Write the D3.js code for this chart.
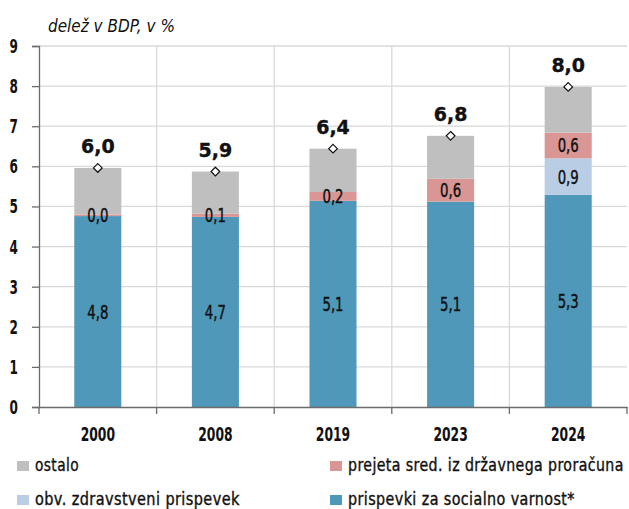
<!DOCTYPE html>
<html><head><meta charset="utf-8">
<script src="https://cdn.jsdelivr.net/npm/d3@7"></script>
<style>
body{margin:0;background:#fff;}
text{font-family:"DejaVu Sans",sans-serif;}
</style></head>
<body><svg id="c" width="629" height="509"></svg>
<script>
const categories = ["2000","2008","2019","2023","2024"];
const socialno = [4.76, 4.74, 5.14, 5.12, 5.29];
const zdravstveni = [0, 0, 0, 0, 0.91];
const proracun = [0.04, 0.08, 0.22, 0.57, 0.64];
const ostalo = [1.16, 1.05, 1.08, 1.07, 1.14];
const totals = [5.96, 5.87, 6.44, 6.76, 7.98];
const yTicks = [0,1,2,3,4,5,6,7,8,9];
const seriesNames = ["prispevki za socialno varnost*","obv. zdravstveni prispevek","prejeta sred. iz državnega proračuna","ostalo"];
const colors = ["#4f98b9","#b9cde5","#d99694","#bfbfbf"];
const title = "delež v BDP, v %";

const svg = d3.select("#c");
const L = 39, R = 627, T = 46, B = 407;
const x = d3.scaleBand().domain(categories).range([L, R]).paddingInner(0.6).paddingOuter(0.3);
const xb = d3.scaleBand().domain(categories).range([L, R]);
const y = d3.scaleLinear().domain([0, 9]).range([B, T]);
const fmt = v => d3.format(".1f")(v).replace(".", ",");

// condensed look: squeeze text horizontally around its anchor
function squeeze(sel, s) {
  sel.each(function() {
    const t = d3.select(this);
    const tx = +t.attr("x") || 0, ty = +t.attr("y") || 0;
    t.attr("x", 0).attr("y", 0).attr("transform", `translate(${tx},${ty}) scale(${s},1)`);
  });
}
function fitWidth(sel, w) {
  sel.each(function() {
    const t = d3.select(this);
    const s = w / this.getComputedTextLength();
    const tx = +t.attr("x") || 0, ty = +t.attr("y") || 0;
    t.attr("x", 0).attr("y", 0).attr("transform", `translate(${tx},${ty}) scale(${s},1)`);
  });
}

// gridlines
svg.append("g").selectAll("line").data(yTicks.slice(1)).join("line")
  .attr("x1", L).attr("x2", R).attr("y1", d => y(d)).attr("y2", d => y(d))
  .attr("stroke", "#d9d9d9").attr("stroke-width", 1.3);
svg.append("g").selectAll("line").data(categories.slice(1)).join("line")
  .attr("x1", d => xb(d)).attr("x2", d => xb(d)).attr("y1", T).attr("y2", B)
  .attr("stroke", "#d9d9d9").attr("stroke-width", 1.3);

// stacked bars
const rows = categories.map((c, i) => ({cat: c, s0: socialno[i], s1: zdravstveni[i], s2: proracun[i], s3: ostalo[i]}));
const stack = d3.stack().keys(["s0","s1","s2","s3"])(rows);
stack.forEach((layer, li) => {
  svg.append("g").selectAll("rect").data(layer).join("rect")
    .attr("x", d => x(d.data.cat)).attr("width", x.bandwidth())
    .attr("y", d => y(d[1])).attr("height", d => y(d[0]) - y(d[1]))
    .attr("fill", colors[li]);
});

// segment labels
const segLabels = [];
stack.forEach((layer, li) => {
  if (li === 3) return;
  layer.forEach(d => {
    const v = d[1] - d[0];
    if (li === 1 && v === 0) return;
    segLabels.push({cat: d.data.cat, v, mid: (d[0] + d[1]) / 2});
  });
});
svg.append("g").selectAll("text").data(segLabels).join("text")
  .attr("x", d => x(d.cat) + x.bandwidth() / 2).attr("y", d => y(d.mid) + 7)
  .attr("text-anchor", "middle")
  .attr("font-size", 19).attr("fill", "#111").attr("stroke", "#111").attr("stroke-width", 0.45)
  .text(d => fmt(d.v))
  .call(squeeze, 0.7);

// axes
const yAxis = d3.axisLeft(y).tickValues(yTicks).tickSize(7).tickFormat("");
const gy = svg.append("g").attr("transform", `translate(${L},0)`).call(yAxis);
gy.select(".domain").attr("stroke", "#6b6b6b").attr("stroke-width", 1.3);
gy.selectAll(".tick line").attr("stroke", "#6b6b6b").attr("stroke-width", 1.3);
svg.append("g").selectAll("text").data(yTicks).join("text")
  .attr("x", 18).attr("y", d => y(d) + 7).attr("text-anchor", "end")
  .attr("font-size", 19.5).attr("font-weight", "bold").attr("fill", "#111")
  .text(d3.format("d")).call(squeeze, 0.62);

const xAxis = d3.axisBottom(xb).tickValues([]).tickSizeOuter(0);
const gx = svg.append("g").attr("transform", `translate(0,${B})`).call(xAxis);
gx.select(".domain").attr("stroke", "#6b6b6b").attr("stroke-width", 1.3);
svg.append("g").selectAll("line").data(d3.range(categories.length + 1)).join("line")
  .attr("x1", i => L + i * xb.bandwidth()).attr("x2", i => L + i * xb.bandwidth())
  .attr("y1", B).attr("y2", B + 7).attr("stroke", "#6b6b6b").attr("stroke-width", 1.3);
svg.append("g").selectAll("text").data(categories).join("text")
  .attr("x", d => xb(d) + xb.bandwidth() / 2).attr("y", 441)
  .attr("text-anchor", "middle").attr("font-size", 19).attr("font-weight", "bold").attr("fill", "#111")
  .text(d => d).call(squeeze, 0.65);

// totals: diamonds and labels
svg.append("g").selectAll("path").data(categories).join("path")
  .attr("transform", (d, i) => `translate(${x(d) + x.bandwidth() / 2},${y(totals[i])})`)
  .attr("d", d3.symbol(d3.symbolDiamond2, 48)())
  .attr("fill", "#fff").attr("stroke", "#111").attr("stroke-width", 1.2);
svg.append("g").selectAll("text").data(categories).join("text")
  .attr("x", d => x(d) + x.bandwidth() / 2).attr("y", (d, i) => y(totals[i]) - 15)
  .attr("text-anchor", "middle").attr("font-size", 20).attr("font-weight", "bold").attr("fill", "#111")
  .attr("stroke", "#111").attr("stroke-width", 0.4)
  .text((d, i) => fmt(totals[i])).call(squeeze, 0.95);

// title
svg.append("text").attr("x", 48).attr("y", 32).attr("font-size", 18.5).attr("font-style", "italic")
  .attr("fill", "#111").text(title).call(fitWidth, 127);

// legend
const legend = [
  {name: seriesNames[3], c: colors[3], lx: 17, ly: 471, w: 44},
  {name: seriesNames[2], c: colors[2], lx: 330, ly: 471, w: 276},
  {name: seriesNames[1], c: colors[1], lx: 17, ly: 505, w: 205},
  {name: seriesNames[0], c: colors[0], lx: 330, ly: 505, w: 227}
];
const lg = svg.append("g").selectAll("g").data(legend).join("g")
  .attr("transform", d => `translate(${d.lx},${d.ly})`);
lg.append("rect").attr("x", 0).attr("y", -10).attr("width", 12).attr("height", 10).attr("fill", d => d.c);
lg.append("text").attr("x", 18).attr("y", 0).attr("font-size", 17.5)
  .attr("letter-spacing", 0.5).attr("fill", "#111").attr("stroke", "#111").attr("stroke-width", 0.4)
  .text(d => d.name)
  .each(function(d) { d3.select(this).call(fitWidth, d.w); });
</script></body></html>
